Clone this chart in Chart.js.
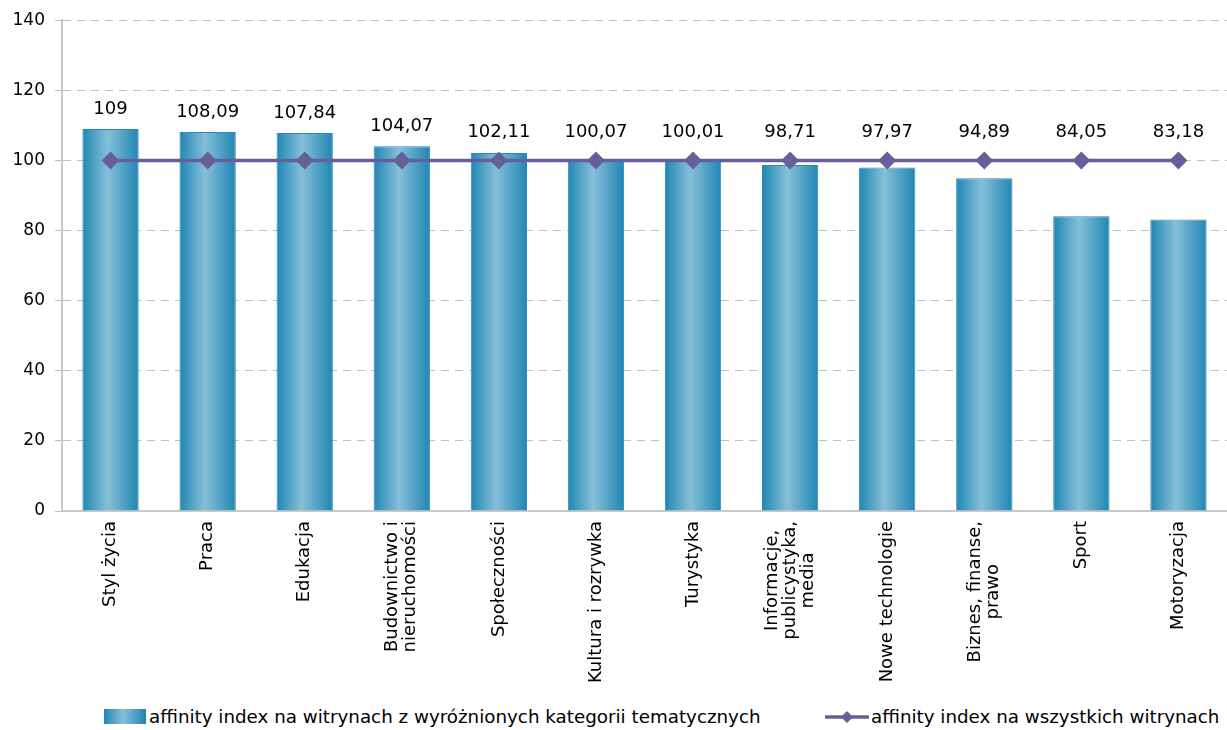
<!DOCTYPE html>
<html>
<head>
    <meta charset="utf-8">
    <title>Affinity index</title>
    <script src="https://cdn.jsdelivr.net/npm/chart.js"></script>
    <style>
        html, body { margin: 0; background: #fff; font-family: "DejaVu Sans", sans-serif; overflow: hidden; }
        #wrap { position: relative; width: 1227px; height: 730px; }
        #chart { display: block; }
        #legend { position: absolute; left: 0; top: 706px; width: 1227px; height: 22px; font-size: 18.3px; color: #000; }
        .item { position: absolute; top: 0; display: flex; align-items: center; white-space: nowrap; }
        .box { width: 42px; height: 15px; margin-right: 3px;
               background: linear-gradient(to right, #1f86b2, #86bfd9 45%, #1f86b2); }
    </style>
</head>
<body>
<div id="wrap">
    <canvas id="chart" width="1227" height="700"></canvas>
    <div id="legend">
        <div class="item" style="left:104px"><span class="box"></span>affinity index na witrynach z wyróżnionych kategorii tematycznych</div>
        <div class="item" style="left:825px">
            <svg width="44" height="18" style="margin-right:2px"><line x1="0" y1="9" x2="44" y2="9" stroke="#665f9c" stroke-width="3.5"/><path d="M22 3 L28 9 L22 15 L16 9 Z" fill="#665f9c"/></svg>affinity index na wszystkich witrynach</div>
    </div>
</div>

<script>
const categories = [
    'Styl życia', 'Praca', 'Edukacja', ['Budownictwo i', 'nieruchomości'], 'Społeczności',
    'Kultura i rozrywka', 'Turystyka', ['Informacje,', 'publicystyka,', 'media'],
    'Nowe technologie', ['Biznes, finanse,', 'prawo'], 'Sport', 'Motoryzacja'
];
const categoryValues = [109, 108.09, 107.84, 104.07, 102.11, 100.07, 100.01, 98.71, 97.97, 94.89, 84.05, 83.18];
const allSitesValues = [100, 100, 100, 100, 100, 100, 100, 100, 100, 100, 100, 100];
const yTicks = [0, 20, 40, 60, 80, 100, 120, 140];

const barPct = 0.58;

function barGradient(ctx) {
    const chart = ctx.chart;
    const x = chart.scales.x;
    if (!x || !chart.chartArea) return '#4fa3c7';
    const cx = x.getPixelForValue(ctx.dataIndex);
    const w = (chart.chartArea.right - chart.chartArea.left) / categories.length * barPct;
    const g = chart.ctx.createLinearGradient(cx - w / 2, 0, cx + w / 2, 0);
    g.addColorStop(0, '#1f86b2');
    g.addColorStop(0.45, '#86bfd9');
    g.addColorStop(1, '#1f86b2');
    return g;
}

// value labels on a white background, kept above the bar and the 100 line
const valueLabels = {
    id: 'valueLabels',
    afterDatasetsDraw(chart) {
        const c = chart.ctx;
        const y = chart.scales.y, x = chart.scales.x;
        c.save();
        c.font = '18px "DejaVu Sans"';
        c.textAlign = 'center';
        c.textBaseline = 'middle';
        categoryValues.forEach((v, i) => {
            const txt = v.toString().replace('.', ',');
            const px = x.getPixelForValue(i);
            const py = Math.min(y.getPixelForValue(v) - 20, y.getPixelForValue(allSitesValues[i]) - 28);
            const w = c.measureText(txt).width + 8;
            c.fillStyle = '#fff';
            c.fillRect(px - w / 2, py - 12, w, 24);
            c.fillStyle = '#000';
            c.fillText(txt, px, py);
        });
        c.restore();
    }
};

// category labels, rotated, with centred lines
const catLabels = {
    id: 'catLabels',
    afterDraw(chart) {
        const c = chart.ctx;
        const x = chart.scales.x;
        const top = chart.chartArea.bottom + 10;
        const lh = 18;
        c.save();
        c.font = '18px "DejaVu Sans"';
        c.fillStyle = '#000';
        c.textAlign = 'center';
        c.textBaseline = 'middle';
        categories.forEach((lab, i) => {
            const lines = Array.isArray(lab) ? lab : [lab];
            const maxW = Math.max(...lines.map(l => c.measureText(l).width));
            const px = x.getPixelForValue(i);
            lines.forEach((l, j) => {
                c.save();
                c.translate(px + (j - (lines.length - 1) / 2) * lh, top + maxW / 2);
                c.rotate(-Math.PI / 2);
                c.fillText(l, 0, 0);
                c.restore();
            });
        });
        c.restore();
    }
};

new Chart(document.getElementById('chart').getContext('2d'), {
    data: {
        labels: categories,
        datasets: [{
            type: 'line',
            label: 'affinity index na wszystkich witrynach',
            data: allSitesValues,
            borderColor: '#665f9c',
            backgroundColor: '#665f9c',
            borderWidth: 3.5,
            pointStyle: 'rectRot',
            pointRadius: 6.5,
            pointHoverRadius: 6.5,
            order: 0
        }, {
            type: 'bar',
            label: 'affinity index na witrynach z wyróżnionych kategorii tematycznych',
            data: categoryValues,
            backgroundColor: barGradient,
            borderColor: '#2a8ab4',
            borderWidth: 1,
            categoryPercentage: 1,
            barPercentage: barPct,
            order: 1
        }]
    },
    options: {
        responsive: false,
        animation: false,
        layout: { autoPadding: false, padding: { top: 10, right: 0, left: 0, bottom: 0 } },
        plugins: { legend: { display: false }, tooltip: { enabled: false } },
        scales: {
            x: {
                grid: { display: false, drawTicks: false },
                border: { color: '#c8c8c8', width: 2 },
                ticks: { display: false },
                afterFit(s) { s.height = 189; s.paddingRight = 0; s.paddingLeft = 0; }
            },
            y: {
                min: 0, max: 140,
                afterBuildTicks(s) { s.ticks = yTicks.map(v => ({ value: v })); },
                grid: { color: '#c0c0c0', tickColor: '#c0c0c0', tickLength: 7, tickBorderDash: [], tickBorderDashOffset: 0 },
                border: { color: '#c8c8c8', width: 2, dash: [8, 6] },
                ticks: { color: '#000', font: { family: 'DejaVu Sans', size: 17 }, padding: 10 },
                afterFit(s) { s.width = 62; }
            }
        }
    },
    plugins: [valueLabels, catLabels]
});
</script>
</body>
</html>
